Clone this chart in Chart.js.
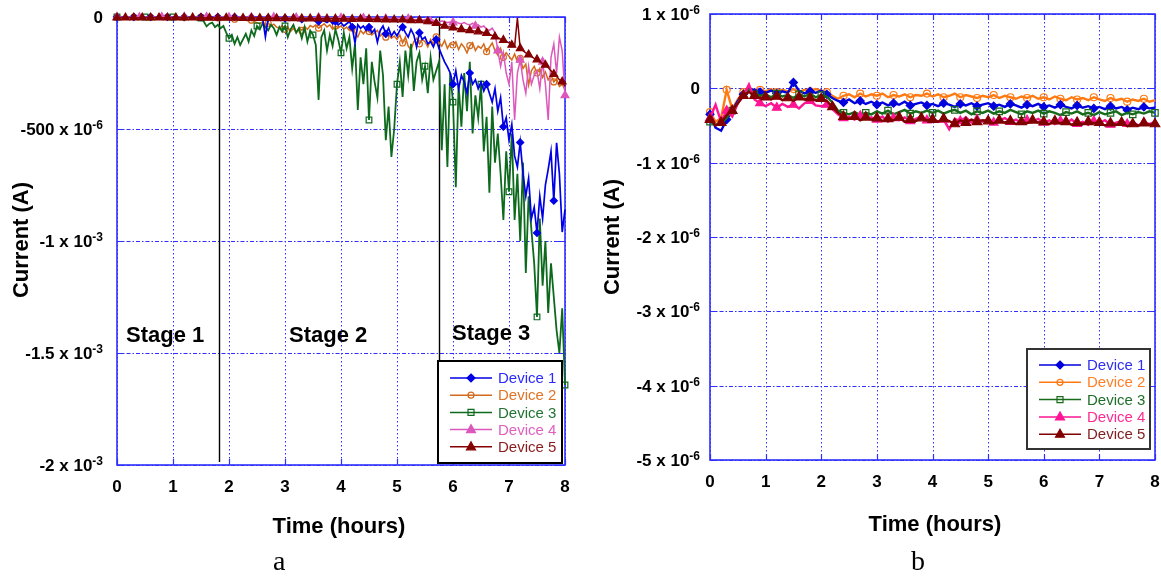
<!DOCTYPE html>
<html><head><meta charset="utf-8">
<script src="https://cdn.jsdelivr.net/npm/chart.js@4.4.1/dist/chart.umd.min.js"></script>
<style>
html,body{margin:0;padding:0;background:#fff;width:1161px;height:576px;overflow:hidden}
#wa{position:absolute;left:0;top:0;width:585px;height:576px}
#wb{position:absolute;left:590px;top:0;width:580px;height:576px}
.cap{position:absolute;font-family:"Liberation Serif","Times New Roman",serif;font-size:28px;line-height:28px;color:#000;top:547px}
</style></head><body>
<div id="wa"><canvas id="ca"></canvas></div>
<div id="wb"><canvas id="cb"></canvas></div>
<div class="cap" style="left:273px">a</div>
<div class="cap" style="left:911px">b</div>
<script>
// ---------------- DATA ----------------
const deviceNames = ['Device 1','Device 2','Device 3','Device 4','Device 5'];
const xTickValues = [0,1,2,3,4,5,6,7,8];
const xTitle = 'Time (hours)';
const yTitle = 'Current (A)';

// Panel a: current in microamps, sampled every 0.05 h from 0 to 8 h
const timeA = Array.from({length:161},(_,i)=>Math.round(i*5)/100);
const dev1A = [
0,0,0,0,0,0,0,0,0,0,
0,0,0,0,0,0,0,0,0,0,
0,0,0,0,0,-1,0,0,0,0,
0,0,0,0,0,-2,0,0,-1,0,
0,-2,0,-1,0,0,-3,0,-1,0,
-2,-3,-5,-89,-4,-6,-3,-5,-8,-4,
-6,-10,-5,-8,-12,-6,-10,-15,-8,-12,
-10,-15,-20,-12,-18,-25,-15,-30,-20,-35,
-25,-40,-30,-20,-45,-116,-35,-50,-40,-60,
-45,-70,-55,-112,-60,-40,-75,-50,-85,-65,
-85,-60,-45,-70,-90,-55,-80,-134,-70,-100,
-90,-120,-110,-134,-100,-140,-170,-200,-223,-250,
-300,-240,-320,-260,-290,-340,-250,-300,-280,-320,
-290,-330,-300,-340,-380,-320,-420,-360,-490,-450,
-550,-480,-620,-670,-560,-700,-800,-720,-900,-850,
-964,-800,-900,-750,-680,-600,-820,-562,-700,-960,
-860];
const dev2A = [
0,-1,0,-2,0,-1,0,0,-2,0,
-1,0,-2,0,-1,0,-2,0,-1,0,
0,-2,0,-1,-3,0,-1,-2,0,-3,
-1,-3,-2,-5,-3,-6,-4,-8,-5,-6,
-8,-5,-10,-7,-12,-9,-15,-18,-14,-20,
-25,-30,-22,-35,-28,-40,-32,-45,-50,-38,
-55,-45,-65,-50,-70,-48,-60,-42,-55,-38,
-45,-35,-50,-40,-30,-45,-35,-55,-40,-48,
-40,-55,-45,-60,-50,-70,-89,-60,-75,-58,
-65,-80,-70,-60,-85,-72,-90,-78,-95,-85,
-100,-80,-116,-90,-130,-147,-110,-95,-120,-100,
-110,-134,-100,-120,-89,-115,-130,-105,-140,-118,
-125,-110,-145,-120,-135,-160,-128,-115,-150,-130,
-140,-120,-155,-135,-116,-150,-170,-140,-180,-160,
-175,-192,-165,-200,-185,-230,-210,-303,-240,-220,
-250,-230,-270,-245,-281,-260,-290,-275,-310,-300,
-326];
const dev3A = [
0,0,-2,0,-1,0,0,-2,0,-1,
0,-1,0,0,-2,0,-1,0,0,-2,
0,-1,0,-3,0,-1,-2,0,-3,-1,
-5,-20,-42,-30,-25,-45,-35,-50,-40,-70,
-95,-80,-120,-90,-125,-100,-75,-110,-60,-85,
-40,-55,-30,-45,-60,-35,-50,-80,-45,-65,
-40,-90,-55,-35,-70,-50,-95,-45,-110,-60,
-80,-125,-370,-90,-60,-150,-80,-130,-55,-100,
-160,-70,-140,-90,-230,-120,-415,-180,-300,-140,
-460,-200,-290,-360,-150,-260,-550,-400,-625,-500,
-300,-200,-357,-150,-260,-120,-330,-200,-160,-280,
-220,-340,-180,-280,-240,-200,-595,-300,-670,-250,
-380,-760,-300,-490,-250,-420,-200,-520,-350,-450,
-300,-600,-446,-785,-400,-650,-520,-700,-906,-600,
-780,-520,-906,-700,-1000,-650,-1143,-800,-950,-1100,
-1339,-900,-1200,-1000,-1321,-1100,-1250,-1400,-1500,-1300,
-1643];
const dev4A = [
0,0,-1,0,0,-1,0,0,-1,0,
0,-1,0,0,-1,0,0,-1,0,0,
-1,0,0,-1,0,0,-2,0,0,-1,
0,-1,0,0,-2,0,-1,0,0,-1,
-1,0,-2,-1,0,-2,-1,0,-2,-1,
-2,-1,-3,-1,-2,-3,-1,-2,-3,-2,
-2,-3,-2,-4,-3,-2,-4,-3,-2,-4,
-3,-4,-2,-5,-3,-4,-5,-3,-4,-5,
-4,-5,-3,-6,-4,-5,-6,-4,-5,-6,
-5,-6,-4,-7,-5,-6,-8,-5,-7,-6,
-3,-5,-4,-6,-8,-5,-10,-12,-8,-15,
-10,-18,-20,-15,-25,-22,-18,-20,-25,-22,
-25,-20,-28,-30,-25,-32,-35,-28,-40,-35,
-45,-40,-55,-60,-50,-70,-150,-220,-160,-250,
-300,-200,-460,-250,-192,-280,-340,-220,-300,-260,
-240,-320,-200,-300,-460,-180,-120,-250,-90,-150,
-350];
const dev5A = [
-3,-4,-3,-3,-4,-3,-3,-4,-3,-3,
-4,-3,-3,-4,-3,-3,-4,-3,-3,-4,
-3,-3,-4,-3,-3,-4,-3,-3,-4,-3,
-4,-3,-4,-4,-3,-4,-4,-3,-4,-4,
-4,-5,-4,-5,-4,-5,-5,-4,-5,-5,
-5,-5,-6,-5,-5,-6,-5,-6,-6,-5,
-6,-6,-7,-6,-7,-6,-7,-7,-6,-7,
-7,-8,-7,-8,-7,-8,-8,-7,-8,-8,
-8,-9,-8,-9,-10,-9,-10,-9,-10,-10,
-10,-11,-10,-11,-12,-11,-12,-11,-12,-12,
-12,-13,-12,-14,-13,-15,-14,-16,-15,-17,
-18,-20,-22,-25,-28,-30,-35,-40,-43,-45,
-48,-50,-52,-55,-56,-58,-60,-62,-63,-65,
-66,-70,-72,-78,-82,-88,-92,-98,-103,-110,
-115,-125,-132,-5,-140,-150,-160,-168,-177,-185,
-190,-200,-208,-214,-225,-240,-255,-265,-280,-289,
-310];
const yTickValuesA = [0,-500,-1000,-1500,-2000];
const yTickTextA = ['0','-500 x 10','-1 x 10','-1.5 x 10','-2 x 10'];
const yTickExpA = ['','-6','-3','-3','-3'];
const stageBounds = [1.83, 5.75];
const stageNames = ['Stage 1','Stage 2','Stage 3'];
const stageLabelX = [0.86, 3.77, 6.68];
const stageLabelY = [-1424, -1424, -1415];

// Panel b: current in microamps, sampled every 0.1 h from 0 to 8 h
const timeB = Array.from({length:81},(_,i)=>Math.round(i*10)/100);
const dev1B = [
-0.35,-0.53,-0.57,-0.42,-0.30,-0.17,-0.08,-0.01,-0.02,-0.05,
-0.06,-0.03,-0.07,-0.04,-0.06,0.08,-0.03,-0.07,-0.04,-0.06,
-0.03,-0.08,-0.13,-0.17,-0.19,-0.15,-0.20,-0.17,-0.21,-0.18,
-0.22,-0.19,-0.23,-0.20,-0.22,-0.18,-0.23,-0.21,-0.19,-0.23,
-0.21,-0.24,-0.20,-0.22,-0.25,-0.21,-0.23,-0.20,-0.24,-0.22,
-0.20,-0.24,-0.22,-0.25,-0.21,-0.23,-0.26,-0.22,-0.24,-0.21,
-0.25,-0.23,-0.26,-0.22,-0.25,-0.27,-0.23,-0.26,-0.24,-0.27,
-0.25,-0.28,-0.24,-0.27,-0.25,-0.29,-0.26,-0.28,-0.25,-0.27,
-0.26];
const dev2B = [
-0.32,-0.45,-0.40,-0.02,-0.28,-0.15,-0.05,0.01,-0.03,-0.02,
-0.04,-0.01,-0.05,-0.02,-0.04,-0.01,-0.05,-0.02,-0.04,-0.01,
-0.03,-0.05,-0.10,-0.14,-0.10,-0.08,-0.12,-0.07,-0.11,-0.08,
-0.10,-0.07,-0.12,-0.09,-0.11,-0.08,-0.12,-0.09,-0.10,-0.07,
-0.11,-0.08,-0.12,-0.10,-0.07,-0.12,-0.09,-0.11,-0.13,-0.10,
-0.12,-0.09,-0.13,-0.10,-0.12,-0.14,-0.11,-0.13,-0.10,-0.14,
-0.12,-0.15,-0.11,-0.14,-0.16,-0.12,-0.15,-0.13,-0.16,-0.12,
-0.15,-0.17,-0.13,-0.16,-0.14,-0.18,-0.15,-0.17,-0.14,-0.18,
-0.16];
const dev3B = [
-0.45,-0.49,-0.48,-0.40,-0.30,-0.20,-0.07,-0.02,-0.08,-0.10,
-0.08,-0.12,-0.07,-0.11,-0.09,-0.13,-0.08,-0.11,-0.07,-0.12,
-0.09,-0.11,-0.19,-0.30,-0.33,-0.35,-0.32,-0.36,-0.33,-0.35,
-0.31,-0.34,-0.30,-0.35,-0.32,-0.29,-0.34,-0.31,-0.33,-0.30,
-0.33,-0.30,-0.34,-0.31,-0.29,-0.33,-0.30,-0.35,-0.31,-0.33,
-0.30,-0.34,-0.31,-0.33,-0.29,-0.32,-0.35,-0.31,-0.33,-0.30,
-0.34,-0.31,-0.33,-0.36,-0.32,-0.34,-0.31,-0.35,-0.33,-0.36,
-0.32,-0.35,-0.33,-0.31,-0.36,-0.33,-0.35,-0.32,-0.34,-0.31,
-0.33];
const dev4B = [
-0.40,-0.22,-0.45,-0.30,-0.38,-0.20,-0.10,0.05,-0.15,-0.20,
-0.24,-0.20,-0.26,-0.21,-0.25,-0.22,-0.27,-0.20,-0.17,-0.23,
-0.24,-0.22,-0.28,-0.35,-0.40,-0.38,-0.42,-0.37,-0.41,-0.39,
-0.42,-0.38,-0.45,-0.40,-0.43,-0.39,-0.44,-0.41,-0.38,-0.43,
-0.40,-0.45,-0.42,-0.55,-0.41,-0.44,-0.39,-0.46,-0.42,-0.45,
-0.41,-0.46,-0.43,-0.40,-0.45,-0.42,-0.47,-0.43,-0.45,-0.41,
-0.46,-0.43,-0.48,-0.44,-0.47,-0.42,-0.48,-0.45,-0.49,-0.44,
-0.47,-0.43,-0.49,-0.46,-0.44,-0.48,-0.45,-0.50,-0.46,-0.48,
-0.45];
const dev5B = [
-0.42,-0.50,-0.46,-0.36,-0.30,-0.20,-0.10,-0.05,-0.10,-0.13,
-0.12,-0.15,-0.11,-0.16,-0.13,-0.17,-0.12,-0.15,-0.13,-0.16,
-0.14,-0.17,-0.25,-0.33,-0.38,-0.41,-0.38,-0.43,-0.39,-0.42,
-0.40,-0.44,-0.41,-0.43,-0.39,-0.45,-0.42,-0.44,-0.40,-0.43,
-0.42,-0.45,-0.41,-0.44,-0.48,-0.43,-0.46,-0.42,-0.45,-0.43,
-0.44,-0.47,-0.43,-0.46,-0.44,-0.48,-0.45,-0.47,-0.43,-0.46,
-0.45,-0.48,-0.44,-0.47,-0.45,-0.49,-0.46,-0.48,-0.45,-0.47,
-0.46,-0.50,-0.47,-0.49,-0.46,-0.51,-0.48,-0.50,-0.47,-0.49,
-0.48];
const yTickValuesB = [1,0,-1,-2,-3,-4,-5];
const yTickTextB = ['1 x 10','0','-1 x 10','-2 x 10','-3 x 10','-4 x 10','-5 x 10'];
const yTickExpB = ['-6','','-6','-6','-6','-6','-6'];

// ---------------- STYLE ----------------
const FONT = '"Liberation Sans", Arial, Helvetica, sans-serif';
Chart.defaults.font.family = FONT;
const GRID = '#2f2fff';
const markerStyles = ['rectRot','circle','rect','triangle','triangle'];
const colorsA = ['#0000e6','#d46a1c','#0d6a1d','#dc58bc','#840000'];
const textColorsA = ['#2a2aff','#e07428','#217432','#e060c0','#8a1c1c'];
const colorsB = ['#0000dd','#ff7a12','#176b1b','#ff1493','#800000'];
const textColorsB = ['#2f2fee','#ff7f27','#1f6f2a','#ff2a92','#7e1e1e'];

function drawMarker(ctx, style, x, y, r, color, filled){
  ctx.save(); ctx.beginPath();
  if(style==='rectRot'){ctx.moveTo(x,y-r);ctx.lineTo(x+r,y);ctx.lineTo(x,y+r);ctx.lineTo(x-r,y);ctx.closePath();}
  else if(style==='circle'){ctx.arc(x,y,r,0,Math.PI*2);}
  else if(style==='rect'){ctx.rect(x-r*0.75,y-r*0.75,r*1.5,r*1.5);}
  else {ctx.moveTo(x,y-r);ctx.lineTo(x+r*0.9,y+r*0.6);ctx.lineTo(x-r*0.9,y+r*0.6);ctx.closePath();}
  if(filled){ctx.fillStyle=color;ctx.fill();}
  ctx.strokeStyle=color;ctx.lineWidth=1.2;ctx.stroke();ctx.restore();
}

const decor = {
  id:'decor',
  beforeDatasetsDraw(chart){
    const o = chart.options.plugins.decor; const ctx = chart.ctx;
    const a = chart.chartArea, xs = chart.scales.x, ys = chart.scales.y;
    ctx.save();
    ctx.lineWidth = 1; ctx.strokeStyle = GRID;
    ctx.setLineDash([1.5,2.5]);
    xTickValues.forEach(v=>{const px=Math.round(xs.getPixelForValue(v))+0.5;
      ctx.beginPath();ctx.moveTo(px,a.top);ctx.lineTo(px,a.bottom);ctx.stroke();});
    ctx.setLineDash([4,2,1.5,2]);
    o.yTicks.forEach(v=>{const py=Math.round(ys.getPixelForValue(v))+0.5;
      ctx.beginPath();ctx.moveTo(a.left,py);ctx.lineTo(a.right,py);ctx.stroke();});
    ctx.setLineDash([]);
    ctx.lineWidth=1.2;
    xTickValues.forEach(v=>{const px=Math.round(xs.getPixelForValue(v))+0.5;
      ctx.beginPath();ctx.moveTo(px,a.bottom);ctx.lineTo(px,a.bottom-6);ctx.moveTo(px,a.top);ctx.lineTo(px,a.top+6);ctx.stroke();});
    o.yTicks.forEach(v=>{const py=Math.round(ys.getPixelForValue(v))+0.5;
      ctx.beginPath();ctx.moveTo(a.left,py);ctx.lineTo(a.left+7,py);ctx.moveTo(a.right,py);ctx.lineTo(a.right-7,py);ctx.stroke();});
    ctx.lineWidth=1.6; ctx.strokeStyle=GRID;
    ctx.strokeRect(a.left,a.top,a.right-a.left,a.bottom-a.top);
    if(o.stages){
      ctx.strokeStyle='#000'; ctx.lineWidth=1.4;
      o.stages.forEach(v=>{const px=Math.round(xs.getPixelForValue(v))+0.5;
        ctx.beginPath();ctx.moveTo(px,a.top);ctx.lineTo(px,a.bottom-3);ctx.stroke();});
    }
    ctx.restore();
  },
  afterDraw(chart){
    const o = chart.options.plugins.decor; const ctx = chart.ctx;
    const xs = chart.scales.x, ys = chart.scales.y;
    ctx.save();
    ctx.fillStyle='#000';
    o.yTicks.forEach((v,i)=>{
      const py = ys.getPixelForValue(v);
      ctx.font='bold 17px '+FONT; const w1=ctx.measureText(o.yText[i]).width;
      ctx.font='bold 12px '+FONT; const w2=o.yExp[i]?ctx.measureText(o.yExp[i]).width:0;
      ctx.textAlign='left'; ctx.textBaseline='alphabetic';
      ctx.font='bold 17px '+FONT; ctx.fillText(o.yText[i], o.yRight-w1-w2, py+6);
      if(o.yExp[i]){ctx.font='bold 12px '+FONT; ctx.fillText(o.yExp[i], o.yRight-w2, py);}
    });
    ctx.font='bold 22px '+FONT; ctx.textAlign='center'; ctx.textBaseline='middle';
    ctx.fillText(xTitle, o.xTitlePos[0], o.xTitlePos[1]);
    ctx.save(); ctx.translate(o.yTitlePos[0], o.yTitlePos[1]); ctx.rotate(-Math.PI/2);
    ctx.fillText(yTitle, 0, 0); ctx.restore();
    if(o.stageNames){
      ctx.font='bold 22px '+FONT;
      o.stageNames.forEach((s,i)=>ctx.fillText(s, xs.getPixelForValue(o.stageX[i]), ys.getPixelForValue(o.stageY[i])));
    }
    const L = o.legend;
    ctx.fillStyle='#fff'; ctx.fillRect(L.x,L.y,L.w,L.h);
    ctx.strokeStyle=L.border; ctx.lineWidth=2; ctx.strokeRect(L.x,L.y,L.w,L.h);
    ctx.font='15px '+FONT; ctx.textAlign='left'; ctx.textBaseline='middle';
    chart.data.datasets.forEach((d,i)=>{
      const ry = L.y + L.row0 + i*L.dy;
      ctx.strokeStyle=d.borderColor; ctx.lineWidth=1.5;
      ctx.beginPath(); ctx.moveTo(L.x+12,ry); ctx.lineTo(L.x+54,ry); ctx.stroke();
      drawMarker(ctx, markerStyles[i], L.x+33, ry, i===4||i===3?5:(i===1?3:4), d.borderColor, !(i===1||i===2));
      ctx.fillStyle=o.textColors[i]; ctx.fillText(deviceNames[i], L.x+60, ry+1);
    });
    ctx.restore();
  }
};

function makeDatasets(times, series, colors, every, radii, orders, lw){
  return series.map((vals,i)=>({
    label: deviceNames[i],
    data: times.map((t,k)=>({x:t,y:vals[k]})),
    borderColor: colors[i],
    backgroundColor: colors[i],
    borderWidth: lw[i],
    pointStyle: markerStyles[i],
    pointRadius: c => (c.dataIndex % every[i] === 0 ? radii[i] : 0),
    pointBorderColor: colors[i],
    pointBackgroundColor: (i===1||i===2) ? 'rgba(255,255,255,0)' : colors[i],
    pointBorderWidth: 1.2,
    tension: 0,
    clip: false,
    order: orders[i]
  }));
}

function makeChart(id, datasets, yMin, yMax, padRight, padTop, xAxisH, padLeft, decorOpts){
  return new Chart(document.getElementById(id), {
    type:'line',
    data:{datasets},
    options:{
      animation:false, responsive:true, maintainAspectRatio:false, devicePixelRatio:1,
      layout:{padding:{left:padLeft, right:padRight, top:padTop, bottom:0}},
      plugins:{legend:{display:false}, tooltip:{enabled:false}, decor:decorOpts},
      scales:{
        x:{type:'linear', min:0, max:8,
           grid:{display:false, drawTicks:false}, border:{display:false},
           ticks:{stepSize:1, padding:12, color:'#000', font:{size:17, weight:'bold'}},
           afterFit:s=>{s.height=xAxisH; s.paddingLeft=0; s.paddingRight=0;}},
        y:{type:'linear', min:yMin, max:yMax, display:false}
      }
    },
    plugins:[decor]
  });
}

makeChart('ca',
  makeDatasets(timeA,[dev1A,dev2A,dev3A,dev4A,dev5A],colorsA,[6,6,10,8,3],[3.5,3,4,4.5,4.5],[2,4,3,1,0],[1.7,1.5,1.8,1.5,1.5]),
  -2000, 0, 20, 17, 111, 117,
  {yTicks:yTickValuesA, yText:yTickTextA, yExp:yTickExpA, yRight:103,
   xTitlePos:[339,527], yTitlePos:[22,240],
   stages:stageBounds, stageNames:stageNames, stageX:stageLabelX, stageY:stageLabelY,
   legend:{x:438,y:361,w:124,h:102,row0:17,dy:17.2,border:'#000'}, textColors:textColorsA});

makeChart('cb',
  makeDatasets(timeB,[dev1B,dev2B,dev3B,dev4B,dev5B],colorsB,[3,3,4,3,2],[4,3.5,4.5,5,5.5],[3,4,2,1,0],[2.4,2.4,2.4,2.4,2.4]),
  -5, 1, 15, 14, 116, 120,
  {yTicks:yTickValuesB, yText:yTickTextB, yExp:yTickExpB, yRight:110,
   xTitlePos:[345,525], yTitlePos:[23,237],
   legend:{x:437,y:349,w:123,h:100,row0:16,dy:17.3,border:'#333'}, textColors:textColorsB});
</script>
</body></html>
